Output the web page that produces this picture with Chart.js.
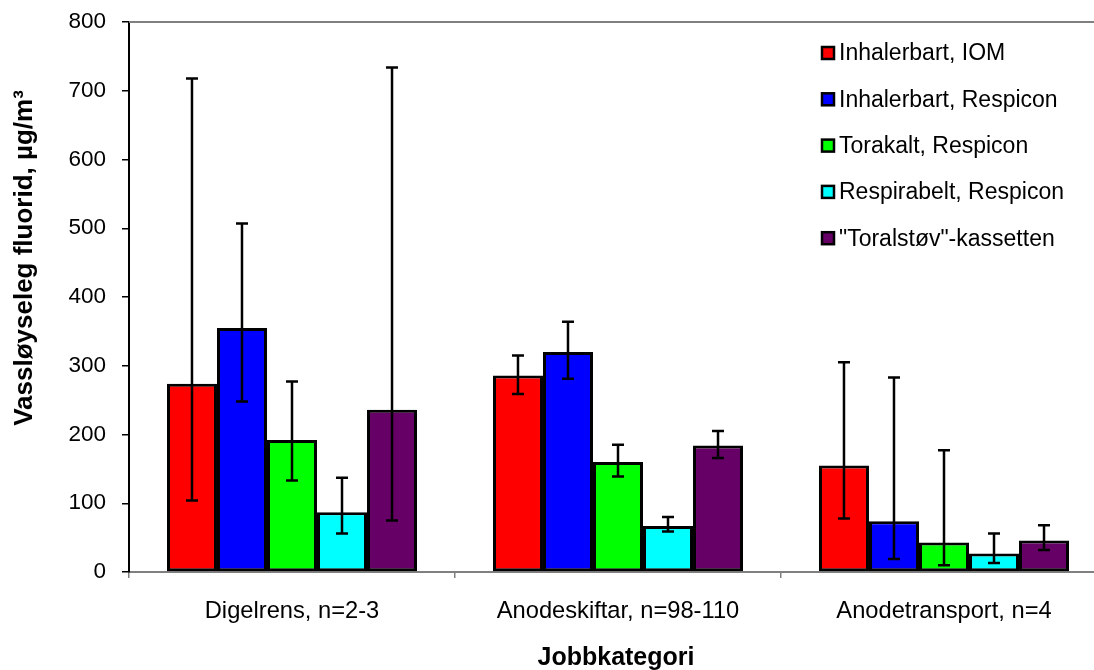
<!DOCTYPE html>
<html>
<head>
<meta charset="utf-8">
<title>Vassløyseleg fluorid per jobbkategori</title>
<script src="https://cdn.jsdelivr.net/npm/chart.js@4.4.1/dist/chart.umd.min.js"></script>
<style>
  html, body { margin: 0; padding: 0; background: #fff; overflow: hidden; }
  #wrap { width: 1110px; height: 670px; }
</style>
</head>
<body>
<div id="wrap"><canvas id="c" width="1110" height="670"></canvas></div>
<script>
// Job categories on the x axis
const categories = ['Digelrens, n=2-3', 'Anodeskiftar, n=98-110', 'Anodetransport, n=4'];

// Sampler series
const seriesNames = ['Inhalerbart, IOM', 'Inhalerbart, Respicon', 'Torakalt, Respicon', 'Respirabelt, Respicon', '"Toralstøv"-kassetten'];
const seriesColors = ['#ff0000', '#0000ff', '#00ff00', '#00ffff', '#660066'];

// Mean water-soluble fluoride, µg/m³
const inhalIOM      = [274, 286, 155];
const inhalRespicon = [355, 320, 74];
const torakRespicon = [192, 160, 43];
const respRespicon  = [87, 67, 27];
const toralKassett  = [236, 184, 46];

// Lower and upper ends of the error bars
const inhalIOMLow       = [104, 259, 78];
const inhalIOMHigh      = [718, 315, 305];
const inhalRespiconLow  = [248, 281, 19];
const inhalRespiconHigh = [507, 364, 283];
const torakRespiconLow  = [133, 139, 10];
const torakRespiconHigh = [277, 185, 177];
const respRespiconLow   = [56, 59, 13];
const respRespiconHigh  = [137, 80, 56];
const toralKassettLow   = [75, 166, 32];
const toralKassettHigh  = [734, 205, 68];

// Y axis ticks
const yTicks = [0, 100, 200, 300, 400, 500, 600, 700, 800];

const yTitle = 'Vassløyseleg fluorid, µg/m³';
const xTitle = 'Jobbkategori';

const seriesValues = [inhalIOM, inhalRespicon, torakRespicon, respRespicon, toralKassett];
const seriesLow = [inhalIOMLow, inhalRespiconLow, torakRespiconLow, respRespiconLow, toralKassettLow];
const seriesHigh = [inhalIOMHigh, inhalRespiconHigh, torakRespiconHigh, respRespiconHigh, toralKassettHigh];

const FONT = '"Liberation Sans", Arial, sans-serif';

const datasets = seriesNames.map((name, i) => ({
  label: name,
  data: seriesValues[i],
  errLow: seriesLow[i],
  errHigh: seriesHigh[i],
  backgroundColor: seriesColors[i],
  borderColor: '#000',
  borderWidth: 3,
  borderSkipped: false,
  categoryPercentage: 0.767,
  barPercentage: 1.0
}));

// Error bars drawn from the low/high arrays through the y scale
const errorBars = {
  id: 'errorBars',
  afterDatasetsDraw(chart) {
    const ctx = chart.ctx;
    const y = chart.scales.y;
    ctx.save();
    ctx.strokeStyle = '#000';
    ctx.lineWidth = 2.5;
    chart.data.datasets.forEach((ds, di) => {
      const meta = chart.getDatasetMeta(di);
      meta.data.forEach((bar, i) => {
        const x = bar.x;
        const yl = y.getPixelForValue(ds.errLow[i]);
        const yh = y.getPixelForValue(ds.errHigh[i]);
        const cap = 6;
        ctx.beginPath();
        ctx.moveTo(x, yl); ctx.lineTo(x, yh);
        ctx.moveTo(x - cap, yl); ctx.lineTo(x + cap, yl);
        ctx.moveTo(x - cap, yh); ctx.lineTo(x + cap, yh);
        ctx.stroke();
      });
    });
    ctx.restore();
  }
};

// Plot frame top line, legend box and axis titles
const decorations = {
  id: 'decorations',
  afterDraw(chart) {
    const ctx = chart.ctx;
    const a = chart.chartArea;
    ctx.save();
    // grey top border
    ctx.strokeStyle = '#808080';
    ctx.lineWidth = 2;
    ctx.beginPath();
    ctx.moveTo(a.left, a.top); ctx.lineTo(a.right, a.top);
    ctx.stroke();

    // legend
    ctx.font = '23px ' + FONT;
    ctx.textBaseline = 'middle';
    ctx.textAlign = 'left';
    chart.data.datasets.forEach((ds, i) => {
      const cy = 53 + i * 46.3;
      ctx.fillStyle = ds.backgroundColor;
      ctx.fillRect(822, cy - 6, 12, 12);
      ctx.strokeStyle = '#000';
      ctx.lineWidth = 2.5;
      ctx.strokeRect(822, cy - 6, 12, 12);
      ctx.fillStyle = '#000';
      ctx.fillText(ds.label, 839, cy + 1);
    });

    // axis titles
    ctx.font = 'bold 26px ' + FONT;
    ctx.fillStyle = '#000';
    ctx.textAlign = 'center';
    ctx.textBaseline = 'middle';
    ctx.save();
    ctx.translate(25, 258);
    ctx.rotate(-Math.PI / 2);
    ctx.fillText(yTitle, 0, 0);
    ctx.restore();
    ctx.font = 'bold 25px ' + FONT;
    ctx.fillText(xTitle, 616, 658);
    ctx.restore();
  }
};

new Chart(document.getElementById('c'), {
  type: 'bar',
  data: { labels: categories, datasets },
  options: {
    responsive: false,
    animation: false,
    devicePixelRatio: 1,
    layout: { padding: { left: 0, top: 22, right: 3, bottom: 0 } },
    plugins: {
      legend: { display: false },
      tooltip: { enabled: false }
    },
    scales: {
      x: {
        type: 'category',
        offset: true,
        grid: {
          offset: true,
          drawOnChartArea: false,
          drawTicks: true,
          tickLength: 6,
          color: '#808080',
          lineWidth: 1.5
        },
        border: { display: true, color: '#808080', width: 2 },
        ticks: {
          color: '#000',
          font: { family: FONT, size: 23.7 },
          padding: 19,
          maxRotation: 0,
          autoSkip: false
        },
        afterFit(scale) {
          scale.height = 98;
          scale.paddingLeft = 0;
          scale.paddingRight = 0;
        }
      },
      y: {
        min: 0,
        max: 800,
        afterBuildTicks(scale) { scale.ticks = yTicks.map(v => ({ value: v })); },
        grid: {
          drawOnChartArea: false,
          drawTicks: true,
          tickLength: 7,
          color: '#000',
          lineWidth: 1.5
        },
        border: { display: true, color: '#000', width: 2 },
        ticks: {
          color: '#000',
          font: { family: FONT, size: 22.5 },
          padding: 16
        },
        afterFit(scale) {
          scale.width = 129;
          scale.paddingTop = 0;
          scale.paddingBottom = 0;
        }
      }
    }
  },
  plugins: [errorBars, decorations]
});
</script>
</body>
</html>
